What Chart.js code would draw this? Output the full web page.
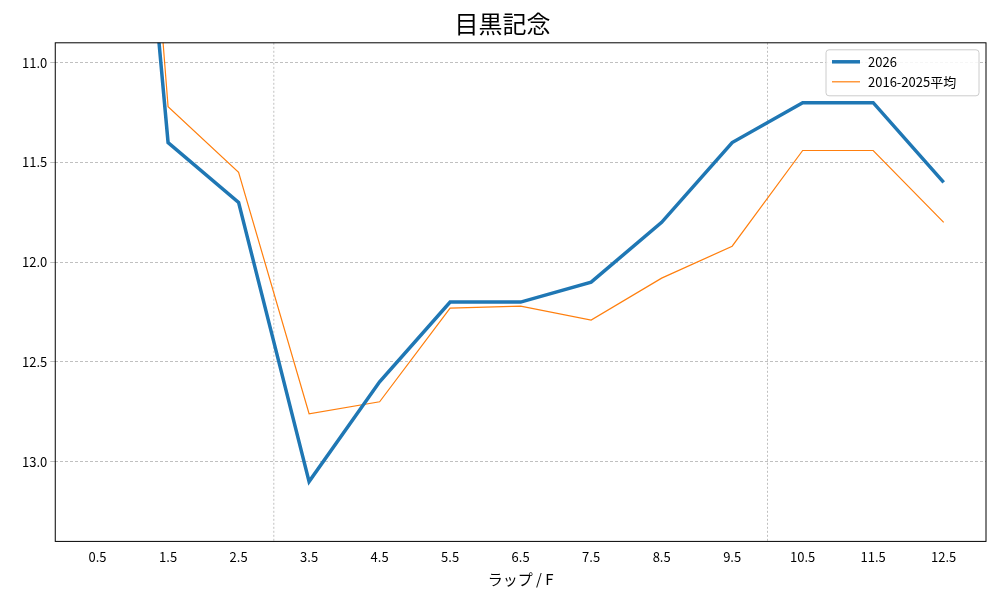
<!DOCTYPE html>
<html><head><meta charset="utf-8">
<script src="https://cdn.jsdelivr.net/npm/chart.js@4"></script>
<style>body{margin:0;background:#fff}#w{width:1000px;height:600px}</style>
</head><body><div id="w"><canvas id="c"></canvas></div>
<script>
const laps=[0.5,1.5,2.5,3.5,4.5,5.5,6.5,7.5,8.5,9.5,10.5,11.5,12.5];
const s2026=[7.5,11.4,11.7,13.1,12.6,12.2,12.2,12.1,11.8,11.4,11.2,11.2,11.6];
const sAvg=[6.7,11.22,11.55,12.76,12.70,12.23,12.22,12.29,12.08,11.92,11.44,11.44,11.80];
const yTicks=[11.0,11.5,12.0,12.5,13.0];
const vLines=[3,10];
const F='"Noto Sans CJK JP","DejaVu Sans",sans-serif';
const extras={id:'extras',
 beforeDatasetsDraw(ch){const {ctx,chartArea:a,scales:{x}}=ch;ctx.save();ctx.strokeStyle='#b0b0b0';ctx.lineWidth=0.8;ctx.setLineDash([2,2]);
  vLines.forEach(v=>{const p=x.getPixelForValue(v);ctx.beginPath();ctx.moveTo(p,a.top);ctx.lineTo(p,a.bottom);ctx.stroke();});ctx.restore();},
 afterDraw(ch){const {ctx,chartArea:a}=ch;ctx.save();ctx.strokeStyle='#000';ctx.lineWidth=1;ctx.strokeRect(a.left,a.top,a.right-a.left,a.bottom-a.top);
  const lx=a.right-160,ly=a.top+7;ctx.fillStyle='rgba(255,255,255,0.85)';ctx.strokeStyle='#ccc';ctx.beginPath();ctx.roundRect(lx,ly,153,46,3);ctx.fill();ctx.stroke();
  ctx.font='13px '+F;ctx.textBaseline='middle';ctx.fillStyle='#000';
  ctx.strokeStyle='#1f77b4';ctx.lineWidth=3.5;ctx.beginPath();ctx.moveTo(lx+6,ly+12);ctx.lineTo(lx+34,ly+12);ctx.stroke();ctx.fillText('2026',lx+42,ly+12);
  ctx.strokeStyle='#ff7f0e';ctx.lineWidth=1.2;ctx.beginPath();ctx.moveTo(lx+6,ly+32);ctx.lineTo(lx+34,ly+32);ctx.stroke();ctx.fillText('2016-2025平均',lx+42,ly+32);
  ctx.restore();}};
new Chart(document.getElementById('c'),{type:'line',
 data:{datasets:[
  {label:'2026',data:laps.map((v,i)=>({x:v,y:s2026[i]})),borderColor:'#1f77b4',borderWidth:3.5,pointRadius:0,tension:0},
  {label:'2016-2025平均',data:laps.map((v,i)=>({x:v,y:sAvg[i]})),borderColor:'#ff7f0e',borderWidth:1.2,pointRadius:0,tension:0}]},
 options:{responsive:true,maintainAspectRatio:false,animation:false,
  layout:{padding:{left:19,right:14,top:0,bottom:8}},
  plugins:{legend:{display:false},tooltip:{enabled:false},
   title:{display:true,text:'目黒記念',font:{family:F,size:24,weight:'normal'},color:'#000',padding:{top:9,bottom:5}}},
  scales:{
   x:{type:'linear',min:-0.1,max:13.1,afterBuildTicks(s){s.ticks=laps.map(v=>({value:v}));},
    ticks:{color:'#000',font:{family:F,size:13},maxRotation:0,callback:v=>v.toFixed(1)},
    grid:{display:false,drawTicks:true,tickLength:5},border:{display:false},
    title:{display:true,text:'ラップ / F',color:'#000',font:{family:F,size:15},padding:{top:2}}},
   y:{reverse:true,min:10.9,max:13.4,afterBuildTicks(s){s.ticks=yTicks.map(v=>({value:v}));},
    ticks:{color:'#000',font:{family:F,size:13},callback:v=>v.toFixed(1)},
    grid:{color:'#b0b0b0',lineWidth:0.8,tickLength:5},border:{display:false,dash:[3,2]}}}},
 plugins:[extras]});
</script></body></html>
